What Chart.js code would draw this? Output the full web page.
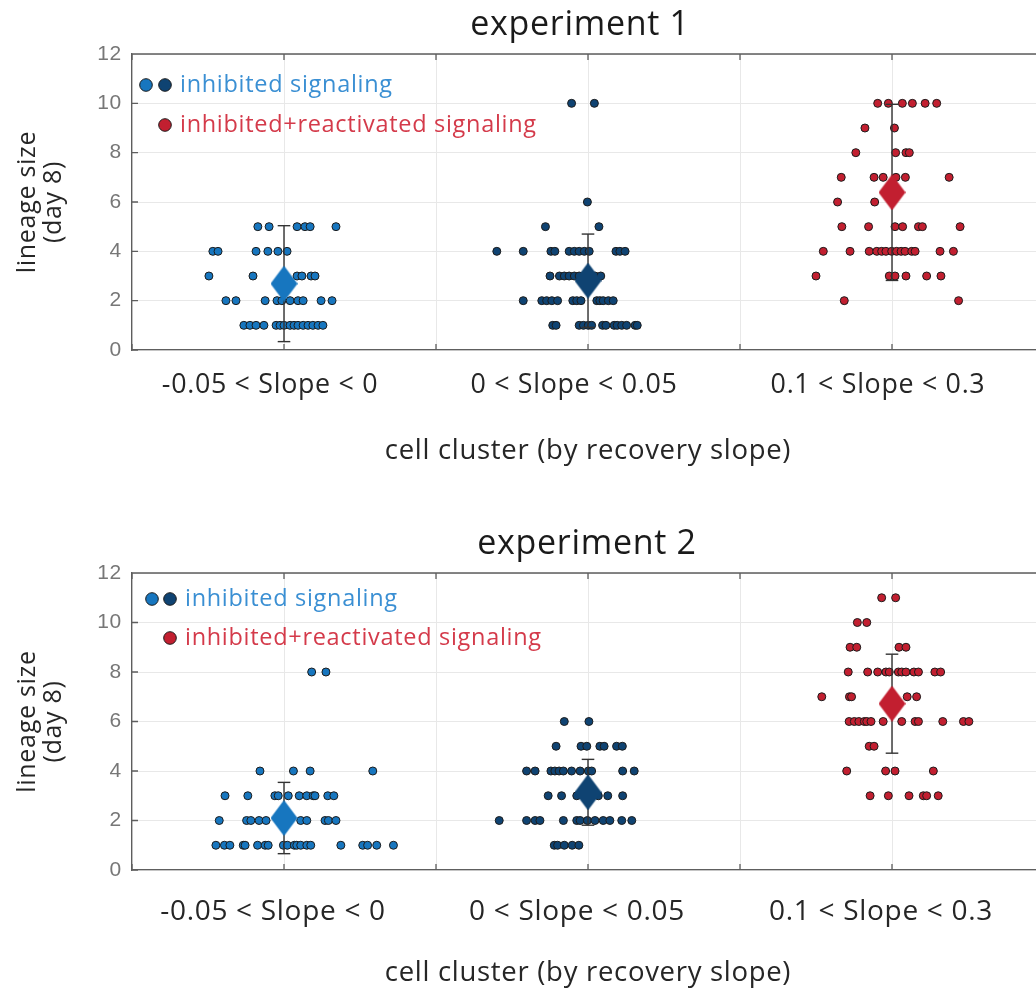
<!DOCTYPE html>
<html><head><meta charset="utf-8">
<script src="https://cdn.jsdelivr.net/npm/chart.js@4.4.1/dist/chart.umd.min.js"></script>
<style>
html,body{margin:0;padding:0;background:#fff;}
body{width:1036px;height:992px;overflow:hidden;position:relative;}
.wrap{position:absolute;left:0;}
</style></head><body>
<div class="wrap" style="top:0"><canvas id="c1" width="1160" height="480"></canvas></div>
<div class="wrap" style="top:519px"><canvas id="c2" width="1160" height="473"></canvas></div>
<script>
// ---------- data ----------
const categories = ['-0.05 < Slope < 0', '0 < Slope < 0.05', '0.1 < Slope < 0.3'];
const yMin = 0, yMax = 12, yStep = 2;
const titles = ['experiment 1', 'experiment 2'];
const xAxisTitle = 'cell cluster (by recovery slope)';
const yAxisTitle = ['lineage size', '(day 8)'];
const legendLabels = ['inhibited signaling', 'inhibited+reactivated signaling'];

// experiment 1 : [x position (jittered around category), lineage size]
const exp1Neg = [
  [0.914,5],[0.951,5],[1.043,5],[1.069,5],[1.086,5],[1.171,5],
  [0.766,4],[0.783,4],[0.908,4],[0.947,4],[0.980,4],[1.010,4],
  [0.753,3],[0.898,3],[1.000,3],[1.043,3],[1.059,3],[1.089,3],[1.102,3],
  [0.809,2],[0.842,2],[0.938,2],[0.977,2],[0.993,2],[1.020,2],[1.046,2],[1.063,2],[1.122,2],[1.158,2],
  [0.868,1],[0.888,1],[0.908,1],[0.934,1],[0.974,1],[0.987,1],[1.000,1],[1.020,1],[1.033,1],[1.046,1],[1.063,1],[1.079,1],[1.095,1],[1.112,1],[1.128,1]
];
const exp1Low = [
  [1.946,10],[2.021,10],
  [1.998,6],
  [1.860,5],[2.036,5],
  [1.700,4],[1.787,4],[1.878,4],[1.891,4],[1.938,4],[1.955,4],[1.971,4],[1.988,4],[2.004,4],[2.092,4],[2.105,4],[2.122,4],
  [1.875,3],[1.906,3],[1.922,3],[1.938,3],[1.955,3],[1.971,3],[2.023,3],[2.042,3],
  [1.787,2],[1.848,2],[1.864,2],[1.881,2],[1.900,2],[1.950,2],[1.963,2],[1.977,2],[2.029,2],[2.039,2],[2.050,2],[2.067,2],[2.083,2],
  [1.884,1],[1.895,1],[1.971,1],[1.985,1],[2.001,1],[2.012,1],[2.048,1],[2.059,1],[2.086,1],[2.096,1],[2.111,1],[2.127,1],[2.155,1],[2.162,1]
];
const exp1High = [
  [2.953,10],[2.988,10],[3.034,10],[3.067,10],[3.109,10],[3.147,10],
  [2.911,9],[3.008,9],
  [2.881,8],[3.012,8],[3.046,8],[3.057,8],
  [2.833,7],[2.941,7],[2.971,7],[3.013,7],[3.044,7],[3.188,7],
  [2.821,6],[2.943,6],
  [2.835,5],[2.923,5],[3.010,5],[3.035,5],[3.087,5],[3.100,5],[3.224,5],
  [2.774,4],[2.862,4],[2.925,4],[2.950,4],[2.966,4],[2.980,4],[2.999,4],[3.015,4],[3.030,4],[3.043,4],[3.065,4],[3.076,4],[3.158,4],[3.202,4],
  [2.750,3],[2.991,3],[3.010,3],[3.046,3],[3.114,3],[3.161,3],
  [2.843,2],[3.219,2]
];
const exp1Mean = [2.69, 2.81, 6.39];
const exp1Sd = [2.35, 1.89, 3.57];

// experiment 2
const exp2Neg = [
  [1.091,8],[1.138,8],
  [0.921,4],[1.031,4],[1.086,4],[1.292,4],
  [0.806,3],[0.881,3],[0.970,3],[0.981,3],[1.014,3],[1.050,3],[1.075,3],[1.096,3],[1.102,3],[1.144,3],[1.164,3],
  [0.787,2],[0.877,2],[0.891,2],[0.918,2],[0.941,2],[1.055,2],[1.075,2],[1.135,2],[1.146,2],[1.171,2],
  [0.776,1],[0.804,1],[0.822,1],[0.866,1],[0.872,1],[0.913,1],[0.938,1],[0.948,1],[0.998,1],[1.011,1],[1.034,1],[1.042,1],[1.055,1],[1.075,1],[1.088,1],[1.187,1],[1.259,1],[1.275,1],[1.305,1],[1.360,1]
];
const exp2Low = [
  [1.922,6],[2.003,6],
  [1.895,5],[1.977,5],[1.996,5],[2.039,5],[2.053,5],[2.094,5],[2.113,5],
  [1.798,4],[1.826,4],[1.878,4],[1.891,4],[1.905,4],[1.919,4],[1.946,4],[1.974,4],[2.001,4],[2.012,4],[2.114,4],[2.152,4],
  [1.869,3],[1.913,3],[1.963,3],[2.034,3],[2.065,3],[2.114,3],
  [1.708,2],[1.798,2],[1.826,2],[1.842,2],[1.919,2],[1.963,2],[1.974,2],[1.998,2],[2.023,2],[2.050,2],[2.072,2],[2.111,2],[2.144,2],
  [1.889,1],[1.900,1],[1.922,1],[1.948,1],[1.970,1]
];
const exp2High = [
  [2.966,11],[3.012,11],
  [2.886,10],[2.917,10],
  [2.862,9],[2.884,9],[3.023,9],[3.046,9],
  [2.856,8],[2.920,8],[2.953,8],[2.980,8],[2.991,8],[3.021,8],[3.032,8],[3.046,8],[3.072,8],[3.087,8],[3.141,8],[3.160,8],
  [2.769,7],[2.860,7],[2.867,7],[3.050,7],[3.081,7],
  [2.859,6],[2.876,6],[2.891,6],[2.909,6],[2.917,6],[2.931,6],[2.971,6],[3.032,6],[3.076,6],[3.087,6],[3.167,6],[3.235,6],[3.253,6],
  [2.925,5],[2.941,5],
  [2.851,4],[2.979,4],[3.010,4],[3.136,4],
  [2.928,3],[2.988,3],[3.056,3],[3.103,3],[3.114,3],[3.152,3]
];
const exp2Mean = [2.10, 3.14, 6.72];
const exp2Sd = [1.44, 1.33, 2.00];

// ---------- styling ----------
const groupColors = ['#1776bf', '#0f4372', '#c21f30'];
const legendTextColors = ['#3a8fd3', '#d43a4a'];
const FONT = '"Open Sans", Lato, sans-serif';
const LETTER_SPACING = '0.7px';

function diamond(color) {
  const c = document.createElement('canvas');
  c.width = 27; c.height = 36;
  const g = c.getContext('2d');
  g.fillStyle = color;
  g.beginPath();
  g.moveTo(13.5, 0); g.lineTo(27, 18); g.lineTo(13.5, 36); g.lineTo(0, 18);
  g.closePath(); g.fill();
  return c;
}

function build(id, groups, means, sds, title, lay) {
  const datasets = [];
  datasets.push({
    label: 'mean', data: means.map((m, i) => ({x: i + 1, y: m})),
    pointStyle: groupColors.map(diamond), pointRadius: 14, showLine: false, order: 0
  });
  means.forEach((m, i) => datasets.push({
    label: 'sd', data: [{x: i + 1, y: m - sds[i]}, {x: i + 1, y: m + sds[i]}],
    showLine: true, borderColor: '#333', borderWidth: 1.4,
    pointStyle: 'line', pointRadius: 6.3, pointBorderColor: '#333', pointBorderWidth: 1.4,
    order: 1
  }));
  groups.forEach((g, i) => datasets.push({
    label: categories[i], data: g.map(p => ({x: p[0], y: p[1]})),
    pointBackgroundColor: groupColors[i], pointBorderColor: '#1c1c1c', pointBorderWidth: 1,
    pointRadius: 4, showLine: false, order: 2
  }));

  const decor = {
    id: 'decor',
    beforeUpdate(chart) { chart.ctx.letterSpacing = LETTER_SPACING; },
    beforeDraw(chart) { chart.ctx.letterSpacing = LETTER_SPACING; },
    beforeDatasetsDraw(chart) {
      const {ctx, chartArea: a, scales: {x, y}} = chart;
      ctx.save();
      ctx.strokeStyle = '#5e5e5e'; ctx.lineWidth = 1.3;
      ctx.beginPath();
      ctx.moveTo(a.left, a.top); ctx.lineTo(a.right, a.top);
      x.ticks.forEach(t => {
        const px = x.getPixelForValue(t.value);
        ctx.moveTo(px, a.top); ctx.lineTo(px, a.top + 6);
        ctx.moveTo(px, a.bottom); ctx.lineTo(px, a.bottom - 6);
      });
      y.ticks.forEach(t => {
        const py = y.getPixelForValue(t.value);
        ctx.moveTo(a.left, py); ctx.lineTo(a.left + 6, py);
      });
      ctx.stroke();
      ctx.restore();
    },
    afterDraw(chart) {
      const ctx = chart.ctx;
      ctx.save();
      ctx.letterSpacing = LETTER_SPACING;
      ctx.fillStyle = '#1a1a1a';
      ctx.font = lay.titleSize + 'px ' + FONT;
      ctx.textAlign = 'center'; ctx.textBaseline = 'alphabetic';
      ctx.fillText(title, lay.titleX, lay.titleY);
      const L = lay.legend;
      const dot = (cx, cy, col) => {
        ctx.beginPath(); ctx.arc(cx, cy, 6.3, 0, Math.PI * 2);
        ctx.fillStyle = col; ctx.fill();
        ctx.lineWidth = 1; ctx.strokeStyle = '#1c1c1c'; ctx.stroke();
      };
      dot(L.c1x, L.r1, groupColors[0]);
      dot(L.c2x, L.r1, groupColors[1]);
      dot(L.c2x, L.r2, groupColors[2]);
      ctx.font = lay.legendSize + 'px ' + FONT;
      ctx.textAlign = 'left'; ctx.textBaseline = 'middle';
      ctx.fillStyle = legendTextColors[0];
      ctx.fillText(legendLabels[0], L.tx, L.r1);
      ctx.fillStyle = legendTextColors[1];
      ctx.fillText(legendLabels[1], L.tx, L.r2);
      ctx.restore();
    }
  };

  return new Chart(document.getElementById(id), {
    type: 'scatter',
    data: {datasets},
    options: {
      responsive: false, animation: false, devicePixelRatio: 1,
      layout: {padding: {top: 54, left: 0, right: 116, bottom: 0}},
      plugins: {legend: {display: false}, tooltip: {enabled: false}, title: {display: false}},
      scales: {
        x: {
          type: 'linear', min: 0.5, max: 3.5,
          afterFit: s => { s.height = lay.xh; },
          ticks: {
            stepSize: 0.5, autoSkip: false, maxRotation: 0, minRotation: 0,
            callback: v => Number.isInteger(v) ? categories[v - 1] : '',
            font: {family: FONT, size: lay.tickSize}, color: '#262626', padding: lay.tickPad,
            labelOffset: lay.labelOffset
          },
          grid: {color: '#e8e8e8', lineWidth: 1, drawTicks: false},
          border: {display: true, color: '#5e5e5e', width: 1.3},
          title: {display: true, text: xAxisTitle, font: {family: FONT, size: lay.xTitleSize}, color: '#262626',
                  padding: {top: 0, bottom: lay.xTitlePad}}
        },
        y: {
          min: yMin, max: yMax,
          afterFit: s => { s.width = 132; },
          ticks: {stepSize: yStep, font: {family: '"Liberation Sans", Arial, sans-serif', size: 21},
                  color: '#777', padding: 10},
          grid: {color: '#e8e8e8', lineWidth: 1, drawTicks: false},
          border: {display: true, color: '#5e5e5e', width: 1.3},
          title: {display: true, text: yAxisTitle, font: {family: FONT, size: 25, lineHeight: 1.04},
                  color: '#262626', padding: {top: 15, bottom: 0}}
        }
      }
    },
    plugins: [decor]
  });
}

build('c1', [exp1Neg, exp1Low, exp1High], exp1Mean, exp1Sd, titles[0], {
  xh: 130, tickSize: 26.8, tickPad: 19, labelOffset: -14, xTitleSize: 27.5, xTitlePad: 12.4,
  titleSize: 34, titleX: 580, titleY: 35, legendSize: 23.5,
  legend: {c1x: 146, c2x: 165, r1: 85, r2: 125, tx: 180}
});
build('c2', [exp2Neg, exp2Low, exp2High], exp2Mean, exp2Sd, titles[1], {
  xh: 122, tickSize: 28, tickPad: 25.3, labelOffset: -11, xTitleSize: 27.5, xTitlePad: 2.4,
  titleSize: 34, titleX: 587, titleY: 35, legendSize: 23.5,
  legend: {c1x: 152, c2x: 170, r1: 80, r2: 119, tx: 185}
});
</script>
</body></html>
